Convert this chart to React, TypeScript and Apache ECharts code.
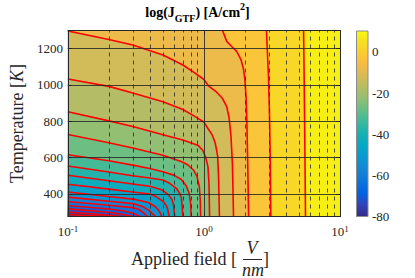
import React, { useEffect, useRef } from "react";
import * as echarts from "echarts";

// ---- axes / ranges ----
const X_RANGE = [0.1, 10];
const Y_RANGE = [275, 1300];
const X_TICKS = [0.1, 1, 10];
const X_MINOR = [0.2, 0.3, 0.4, 0.5, 0.6, 0.7, 0.8, 0.9, 2, 3, 4, 5, 6, 7, 8, 9];
const Y_TICKS = [400, 600, 800, 1000, 1200];
const CLIM = [-80, 10.2];
const CB_TICKS = [-80, -60, -40, -20, 0];

// ---- contour levels of log(J) and their paths [field V/nm, temperature K] ----
const LEVELS = [5, 0, -5, -10, -15, -20, -25, -30, -35, -40, -45, -50, -55, -60, -65, -70, -75, -80];

const C_P5 = [[5.4, 1300], [5.46, 1000], [5.52, 650], [5.58, 275]];
const C_0 = [[2.88, 1300], [2.94, 1150], [2.98, 1050], [3.03, 850], [3.07, 600], [3.1, 275]];
const C_M5 = [[1.37, 1300], [1.47, 1240], [1.6, 1212], [1.74, 1185], [1.87, 1140], [1.95, 1090], [2.0, 1030], [2.04, 930], [2.07, 780], [2.1, 550], [2.13, 275]];
const C_M10 = [[0.1, 1297], [0.2, 1250], [0.3, 1220], [0.5, 1165], [0.7, 1110], [0.85, 1068], [1.0, 1030], [1.08, 995], [1.22, 965], [1.37, 925], [1.47, 880], [1.53, 820], [1.58, 720], [1.62, 560], [1.65, 275]];
const C_M15 = [[0.1, 1033], [0.2, 992], [0.3, 956], [0.5, 907], [0.7, 865], [0.85, 828], [1.0, 795], [1.07, 760], [1.15, 725], [1.21, 680], [1.26, 610], [1.28, 500], [1.3, 275]];
const C_M20 = [[0.1, 852], [0.2, 802], [0.3, 771], [0.5, 725], [0.7, 697], [0.9, 668], [0.98, 640], [1.03, 600], [1.07, 550], [1.09, 450], [1.1, 275]];
const C_M25 = [[0.1, 727], [0.2, 681], [0.3, 652], [0.5, 613], [0.68, 578], [0.76, 560], [0.84, 530], [0.89, 495], [0.925, 440], [0.94, 360], [0.945, 275]];
const C_M30 = [[0.1, 615], [0.2, 582], [0.3, 558], [0.4, 540], [0.5, 522], [0.6, 503], [0.68, 480], [0.74, 445], [0.78, 400], [0.8, 340], [0.805, 275]];
const C_M35 = [[0.1, 553], [0.2, 520], [0.3, 500], [0.4, 487], [0.5, 476], [0.56, 458], [0.63, 428], [0.665, 402], [0.683, 378], [0.7, 275]];
const C_M40 = [[0.1, 502], [0.2, 472], [0.3, 454], [0.4, 442], [0.49, 422], [0.55, 394], [0.58, 370], [0.595, 348], [0.61, 275]];
const C_M45 = [[0.1, 453], [0.2, 426], [0.3, 410], [0.4, 399], [0.444, 385], [0.5, 359], [0.527, 337], [0.541, 317], [0.555, 275]];
const C_M50 = [[0.1, 410], [0.2, 385], [0.3, 371], [0.39, 352], [0.44, 329], [0.466, 309], [0.478, 292], [0.49, 275]];
const C_M55 = [[0.1, 382], [0.2, 359], [0.3, 346], [0.35, 332], [0.395, 309], [0.418, 291], [0.44, 275]];
const C_M60 = [[0.1, 358], [0.2, 337], [0.3, 324], [0.33, 315], [0.36, 295], [0.385, 275]];
const C_M65 = [[0.1, 336], [0.2, 316], [0.26, 305], [0.3, 293], [0.34, 275]];
const C_M70 = [[0.1, 317], [0.15, 307], [0.2, 298], [0.25, 287], [0.3, 275]];
const C_M75 = [[0.1, 300], [0.15, 290], [0.2, 282], [0.25, 275]];
const C_M80 = [[0.1, 285], [0.15, 279], [0.2, 275]];

const CONTOURS = [C_P5, C_0, C_M5, C_M10, C_M15, C_M20, C_M25, C_M30, C_M35, C_M40, C_M45, C_M50, C_M55, C_M60, C_M65, C_M70, C_M75, C_M80];
const LEVEL_STEP = 5;

// ---- style ----
const PARULA = ["#352A87", "#3243BA", "#0363E1", "#0D75DC", "#1485D4", "#0998D1", "#06A7C6", "#15B1B4", "#38B99E", "#65BE86", "#92BF73", "#B7BD64", "#D9BA56", "#F8BB44", "#FCCE2E", "#F5E41D", "#F9FB0E"];
const PARULA_POS = [0, 4, 8, 12, 16, 20, 24, 28, 32, 36, 40, 44, 48, 52, 56, 60, 63].map((i) => i / 63);
const SERIF = "Liberation Serif";
const AX = "#262626";

function hexRgb(h: string) {
  return [parseInt(h.slice(1, 3), 16), parseInt(h.slice(3, 5), 16), parseInt(h.slice(5, 7), 16)];
}
function parula(v: number): string {
  let t = (v - CLIM[0]) / (CLIM[1] - CLIM[0]);
  t = Math.max(0, Math.min(1, t));
  for (let i = 0; i < PARULA_POS.length - 1; i++) {
    if (t <= PARULA_POS[i + 1]) {
      const a = hexRgb(PARULA[i]);
      const b = hexRgb(PARULA[i + 1]);
      const f = (t - PARULA_POS[i]) / (PARULA_POS[i + 1] - PARULA_POS[i]);
      const c = a.map((x, k) => Math.round(x + (b[k] - x) * f));
      return `rgb(${c[0]},${c[1]},${c[2]})`;
    }
  }
  return PARULA[PARULA.length - 1];
}

function buildOption() {
  const fills = CONTOURS.map((pts, i) => {
    const data = pts[0][0] > X_RANGE[0] ? [[X_RANGE[0], Y_RANGE[1]], ...pts] : pts;
    return {
      type: "line",
      data,
      symbol: "none",
      silent: true,
      z: 2,
      lineStyle: { width: 0, opacity: 0 },
      areaStyle: { color: parula(LEVELS[i] - LEVEL_STEP / 2), opacity: 1, origin: "start" },
    };
  });

  const lines = CONTOURS.map((pts) => ({
    type: "line",
    data: pts,
    symbol: "none",
    silent: true,
    z: 4,
    lineStyle: { color: "#ff0000", width: 1.6 },
  }));

  const solid = { color: AX, width: 1, type: "solid", opacity: 0.85 };
  const dashed = { color: AX, width: 1, type: [4, 4], opacity: 0.8 };
  const gridSeries = {
    type: "line",
    data: [[X_RANGE[0], Y_RANGE[0]]],
    symbol: "none",
    silent: true,
    z: 5,
    lineStyle: { opacity: 0 },
    markLine: {
      symbol: ["none", "none"],
      silent: true,
      label: { show: false },
      emphasis: { disabled: true },
      data: [
        ...X_MINOR.map((v) => ({ xAxis: v, lineStyle: dashed })),
        ...X_TICKS.slice(1, -1).map((v) => ({ xAxis: v, lineStyle: solid })),
        ...Y_TICKS.map((v) => ({ yAxis: v, lineStyle: solid })),
      ],
    },
  };

  const colorbar = {
    type: "custom",
    xAxisIndex: 2,
    yAxisIndex: 2,
    silent: true,
    z: 2,
    data: [[0, CLIM[0], CLIM[1]]],
    encode: { x: 0, y: [1, 2] },
    renderItem: (params: any, api: any) => {
      const cs = params.coordSys;
      const top = api.coord([0, api.value(2)]);
      const bot = api.coord([0, api.value(1)]);
      return {
        type: "rect",
        shape: { x: cs.x, y: top[1], width: cs.width, height: bot[1] - top[1] },
        style: {
          fill: new echarts.graphic.LinearGradient(0, 1, 0, 0, PARULA.map((c, i) => ({ offset: PARULA_POS[i], color: c }))),
          stroke: "#8c8c8c",
          lineWidth: 1,
        },
      };
    },
  };

  const tickLabel = { color: AX, fontFamily: SERIF, fontSize: 13 };
  const axLine = { show: true, onZero: false, lineStyle: { color: AX, width: 1 } };
  const plain = (v: number) => String(v);

  return {
    animation: false,
    textStyle: { fontFamily: SERIF },
    grid: [
      { left: 55, top: 30.5, width: 285, height: 186, show: true, backgroundColor: parula((LEVELS[0] + CLIM[1]) / 2), borderWidth: 0 },
      { left: 356.5, top: 31, width: 11.5, height: 185.5 },
    ],
    xAxis: [
      {
        type: "log", logBase: 10, gridIndex: 0, min: X_RANGE[0], max: X_RANGE[1], position: "bottom", z: 10,
        axisLine: axLine,
        axisTick: { show: true, inside: true, length: 4, lineStyle: { color: AX }, customValues: X_TICKS },
        axisLabel: {
          ...tickLabel, margin: 8, customValues: X_TICKS,
          formatter: (v: number) => "{b|10}{s|" + Math.round(Math.log10(v)) + "}",
          rich: {
            b: { color: AX, fontFamily: SERIF, fontSize: 13 },
            s: { color: AX, fontFamily: SERIF, fontSize: 9, verticalAlign: "top" },
          },
        },
        splitLine: { show: false },
      },
      {
        type: "log", logBase: 10, gridIndex: 0, min: X_RANGE[0], max: X_RANGE[1], position: "top", z: 10,
        axisLine: axLine,
        axisTick: { show: true, inside: true, length: 4, lineStyle: { color: AX }, customValues: X_TICKS },
        axisLabel: { show: false },
        splitLine: { show: false },
      },
      { type: "category", gridIndex: 1, data: ["cb"], show: false },
    ],
    yAxis: [
      {
        type: "value", gridIndex: 0, min: Y_RANGE[0], max: Y_RANGE[1], position: "left", z: 10,
        axisLine: axLine,
        axisTick: { show: true, inside: true, length: 4, lineStyle: { color: AX }, customValues: Y_TICKS },
        axisLabel: { ...tickLabel, margin: 5, customValues: Y_TICKS, formatter: plain },
        splitLine: { show: false },
        name: "Temperature [{i|K}]",
        nameLocation: "middle",
        nameGap: 36,
        nameTextStyle: {
          color: AX, fontFamily: SERIF, fontSize: 18,
          rich: { i: { color: AX, fontFamily: SERIF, fontSize: 18, fontStyle: "italic" } },
        },
      },
      {
        type: "value", gridIndex: 0, min: Y_RANGE[0], max: Y_RANGE[1], position: "right", z: 10,
        axisLine: axLine,
        axisTick: { show: true, inside: true, length: 4, lineStyle: { color: AX }, customValues: Y_TICKS },
        axisLabel: { show: false },
        splitLine: { show: false },
      },
      {
        type: "value", gridIndex: 1, min: CLIM[0], max: CLIM[1], position: "right",
        axisLine: { show: false },
        axisTick: { show: true, inside: true, length: 3, lineStyle: { color: AX }, customValues: CB_TICKS },
        axisLabel: { ...tickLabel, margin: 4, customValues: CB_TICKS, formatter: plain },
        splitLine: { show: false },
      },
    ],
    series: [...fills, ...lines, gridSeries, colorbar],
    graphic: [
      {
        type: "text", x: 197.5, y: 12.5, silent: true,
        style: {
          text: "{m|log(J}{sub|GTF}{m|) [A/cm}{sup|2}{m|]}",
          fontFamily: SERIF, fontSize: 14, fontWeight: "bold", fill: "#000",
          align: "center", verticalAlign: "middle",
          rich: {
            m: { fontFamily: SERIF, fontSize: 14, fontWeight: "bold", fill: "#000" },
            sub: { fontFamily: SERIF, fontSize: 10, fontWeight: "bold", fill: "#000", lineHeight: 22, verticalAlign: "bottom" },
            sup: { fontFamily: SERIF, fontSize: 10, fontWeight: "bold", fill: "#000", verticalAlign: "top" },
          },
        },
      },
      {
        type: "text", x: 237, y: 259, silent: true,
        style: { text: "Applied field [", fontFamily: SERIF, fontSize: 18, fill: AX, align: "right", verticalAlign: "middle" },
      },
      {
        type: "text", x: 252, y: 247.5, silent: true,
        style: { text: "V", fontFamily: SERIF, fontSize: 18, fontStyle: "italic", fill: AX, align: "center", verticalAlign: "middle" },
      },
      {
        type: "line", silent: true,
        shape: { x1: 243, y1: 259.5, x2: 262, y2: 259.5 },
        style: { stroke: AX, lineWidth: 1 },
      },
      {
        type: "text", x: 253, y: 269.5, silent: true,
        style: { text: "nm", fontFamily: SERIF, fontSize: 18, fontStyle: "italic", fill: AX, align: "center", verticalAlign: "middle" },
      },
      {
        type: "text", x: 263, y: 259, silent: true,
        style: { text: "]", fontFamily: SERIF, fontSize: 18, fill: AX, align: "left", verticalAlign: "middle" },
      },
    ],
  };
}

export default function App() {
  const ref = useRef<HTMLDivElement>(null);
  useEffect(() => {
    document.body.style.margin = "0";
    const chart = echarts.init(ref.current as HTMLDivElement, null, { renderer: "svg" });
    chart.setOption(buildOption() as any);
    return () => chart.dispose();
  }, []);
  return <div ref={ref} style={{ width: 415, height: 278 }} />;
}
